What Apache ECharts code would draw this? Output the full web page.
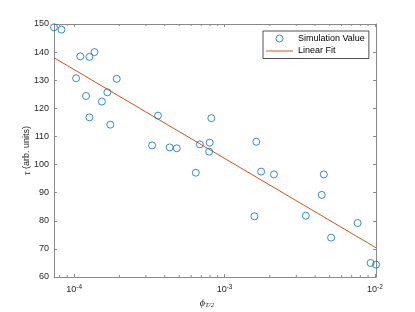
<!DOCTYPE html>
<html>
<head>
<meta charset="utf-8">
<script src="https://cdn.jsdelivr.net/npm/echarts@6/dist/echarts.min.js"></script>
<style>html,body{margin:0;padding:0;background:#fff}#c{width:415px;height:312px}</style>
</head>
<body>
<div id="c"></div>
<script>
// ---- data ----
const phiValues = [7.35e-5, 8.24e-5, 1.031e-4, 1.10e-4, 1.20e-4, 1.264e-4, 1.264e-4, 1.365e-4, 1.53e-4, 1.664e-4, 1.74e-4, 1.92e-4,
  3.30e-4, 3.61e-4, 4.32e-4, 4.81e-4, 6.44e-4, 6.85e-4, 7.97e-4, 7.90e-4, 8.17e-4,
  1.58e-3, 1.626e-3, 1.75e-3, 2.13e-3, 3.47e-3, 4.43e-3, 4.57e-3, 5.11e-3, 7.67e-3, 9.35e-3, 1.016e-2];
const tauValues = [148.8, 148.0, 130.7, 138.5, 124.4, 138.3, 116.8, 140.0, 122.4, 125.7, 114.2, 130.5,
  106.8, 117.4, 106.1, 105.8, 97.1, 107.2, 107.8, 104.6, 116.5,
  81.6, 108.1, 97.5, 96.5, 81.8, 89.2, 96.5, 74.0, 79.2, 65.0, 64.4];
const fitX = [7.35e-5, 1.016e-2];
const fitY = [138.0, 70.4];
const xRange = [7.35e-5, 1.016e-2];
const yRange = [60, 150];
const yStep = 10;
const minorXTicks = [8e-5, 9e-5, 2e-4, 3e-4, 4e-4, 5e-4, 6e-4, 7e-4, 8e-4, 9e-4,
  2e-3, 3e-3, 4e-3, 5e-3, 6e-3, 7e-3, 8e-3, 9e-3];
const seriesNames = ['Simulation Value', 'Linear Fit'];

// ---- chart ----
const AX = '#8a8a8a', TX = '#262626', FONT = 'Liberation Sans, Arial, Helvetica, sans-serif';
const SERIF = 'Liberation Serif, DejaVu Serif, serif';
const chart = echarts.init(document.getElementById('c'), null, {renderer: 'canvas'});

const xLabelFmt = v => {
  const l = Math.log10(v), e = Math.round(l);
  if (Math.abs(l - e) > 1e-6) return '';
  return '{b|10}{s|' + e + '}';
};

const baseX = {
  type: 'log', logBase: 10, min: xRange[0], max: xRange[1],
  axisLine: {show: true, lineStyle: {color: AX, width: 1}},
  axisTick: {show: true, inside: true, length: 3, lineStyle: {color: AX}},
  splitLine: {show: false}, minorTick: {show: false}
};
const baseY = {
  type: 'value', min: yRange[0], max: yRange[1], interval: yStep,
  axisLine: {show: true, lineStyle: {color: AX, width: 1}},
  axisTick: {show: true, inside: true, length: 3, lineStyle: {color: AX}},
  splitLine: {show: false}
};

const option = {
  animation: false,
  backgroundColor: '#fff',
  grid: {left: 54, top: 24, right: 39, bottom: 35, containLabel: false, outerBoundsMode: 'none'},
  xAxis: [
    Object.assign({}, baseX, {
      position: 'bottom',
      axisLabel: {show: true, margin: 7, color: TX, fontFamily: FONT, formatter: xLabelFmt,
        showMinLabel: false, showMaxLabel: false,
        rich: {
          b: {fontSize: 9, color: TX, fontFamily: FONT},
          s: {fontSize: 6.5, color: TX, fontFamily: FONT, padding: [0, 0, 5, 0]}
        }},
      name: '{p|ϕ}{s|T/2}', nameLocation: 'middle', nameGap: 21, nameMoveOverlap: false,
      nameTextStyle: {padding: [0, 16, 0, 0], rich: {
        p: {fontSize: 10, fontFamily: SERIF, fontStyle: 'italic', color: TX},
        s: {fontSize: 7, fontFamily: SERIF, fontStyle: 'italic', color: TX, padding: [4, 0, 0, 0]}
      }}
    }),
    Object.assign({}, baseX, {position: 'top', axisLabel: {show: false}})
  ],
  yAxis: [
    Object.assign({}, baseY, {
      position: 'left',
      axisLabel: {show: true, margin: 5, color: TX, fontSize: 9, fontFamily: FONT},
      name: '{t|τ} (arb. units)', nameLocation: 'middle', nameGap: 22, nameRotate: 90, nameMoveOverlap: false,
      nameTextStyle: {fontSize: 9, fontFamily: FONT, color: TX,
        rich: {t: {fontSize: 9.5, fontFamily: SERIF, fontStyle: 'italic', color: TX}}}
    }),
    Object.assign({}, baseY, {position: 'right', axisLabel: {show: false}})
  ],
  legend: {
    orient: 'vertical', left: 263, top: 31,
    padding: [3, 4, 3, 3], itemGap: 3.5, itemWidth: 27, itemHeight: 7,
    backgroundColor: '#fff', borderColor: TX, borderWidth: 0.8, borderRadius: 0,
    textStyle: {fontSize: 9, fontFamily: FONT, color: '#000'},
    data: [
      {name: seriesNames[0], icon: 'circle', itemStyle: {color: 'rgba(0,0,0,0)', borderColor: '#0072BD', borderWidth: 1}},
      {name: seriesNames[1], icon: 'path://M0,3L27,3L27,4L0,4Z', itemStyle: {color: '#D95319', borderWidth: 0}}
    ]
  },
  series: [
    {
      name: seriesNames[0], type: 'scatter', xAxisIndex: 0, yAxisIndex: 0,
      symbol: 'circle', symbolSize: 7,
      itemStyle: {color: 'rgba(0,0,0,0)', borderColor: '#0072BD', borderWidth: 1},
      data: phiValues.map((x, i) => [x, tauValues[i]]),
      clip: false, z: 3
    },
    {
      name: seriesNames[1], type: 'line', xAxisIndex: 0, yAxisIndex: 0,
      showSymbol: false, symbol: 'none',
      lineStyle: {color: '#D95319', width: 1},
      itemStyle: {color: '#D95319'},
      data: fitX.map((x, i) => [x, fitY[i]]), z: 2
    },
    {
      name: 'minorTicks', type: 'custom', xAxisIndex: 0, yAxisIndex: 0, silent: true, clip: false,
      data: minorXTicks.map(v => [v]),
      renderItem: (params, api) => {
        const v = api.value(0);
        const b = api.coord([v, yRange[0]]);
        const t = api.coord([v, yRange[1]]);
        const st = {stroke: AX, lineWidth: 1};
        return {type: 'group', children: [
          {type: 'line', shape: {x1: b[0], y1: b[1], x2: b[0], y2: b[1] - 2}, style: st},
          {type: 'line', shape: {x1: t[0], y1: t[1], x2: t[0], y2: t[1] + 2}, style: st}
        ]};
      }
    }
  ]
};
chart.setOption(option);
</script>
</body>
</html>
